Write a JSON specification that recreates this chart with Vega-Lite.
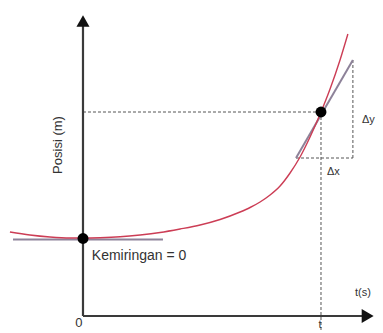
{
  "$schema": "https://vega.github.io/schema/vega-lite/v6.json",
  "width": 383,
  "height": 333,
  "autosize": {"type": "fit", "contains": "padding"},
  "padding": 0,
  "background": "white",
  "config": {"view": {"stroke": null}},
  "datasets": {
    "curve": [
      {"t": -0.307, "y": 0.84}, {"t": -0.223, "y": 0.81}, {"t": -0.139, "y": 0.79},
      {"t": -0.055, "y": 0.78}, {"t": 0.0, "y": 0.78}, {"t": 0.071, "y": 0.783},
      {"t": 0.156, "y": 0.792}, {"t": 0.24, "y": 0.81}, {"t": 0.324, "y": 0.835},
      {"t": 0.408, "y": 0.87}, {"t": 0.492, "y": 0.91}, {"t": 0.576, "y": 0.965},
      {"t": 0.66, "y": 1.04}, {"t": 0.702, "y": 1.085}, {"t": 0.744, "y": 1.14},
      {"t": 0.786, "y": 1.21}, {"t": 0.828, "y": 1.3}, {"t": 0.87, "y": 1.43},
      {"t": 0.912, "y": 1.59}, {"t": 0.954, "y": 1.79}, {"t": 1.0, "y": 2.04},
      {"t": 1.038, "y": 2.27}, {"t": 1.08, "y": 2.56}, {"t": 1.113, "y": 2.82}
    ],
    "tangents": [
      {"id": "flat", "t": -0.294, "y": 0.765},
      {"id": "flat", "t": 0.336, "y": 0.765},
      {"id": "slope", "t": 0.895, "y": 1.58},
      {"id": "slope", "t": 1.134, "y": 2.56}
    ],
    "guides": [
      {"id": "h", "t": 0.0, "y": 2.04},
      {"id": "h", "t": 1.0, "y": 2.04},
      {"id": "v", "t": 1.0, "y": 2.04},
      {"id": "v", "t": 1.0, "y": -0.15},
      {"id": "dx", "t": 0.895, "y": 1.58},
      {"id": "dx", "t": 1.134, "y": 1.58},
      {"id": "dy", "t": 1.134, "y": 1.58},
      {"id": "dy", "t": 1.134, "y": 2.56}
    ],
    "axes": [
      {"id": "yaxis", "t": 0.0, "y": 0.0},
      {"id": "yaxis", "t": 0.0, "y": 2.92},
      {"id": "xaxis", "t": 0.0, "y": 0.0},
      {"id": "xaxis", "t": 1.18, "y": 0.0}
    ],
    "arrowUp": [{"t": 0.0, "y": 2.95}],
    "arrowRight": [{"t": 1.196, "y": 0.0}],
    "dots": [{"t": 0.0, "y": 0.775}, {"t": 1.0, "y": 2.04}],
    "bigLabels": [
      {"label": "Kemiringan = 0", "t": 0.037, "y": 0.6}
    ],
    "zeroLabel": [
      {"label": "0", "t": -0.017, "y": -0.07}
    ],
    "smallLabels": [
      {"label": "t", "t": 0.99, "y": -0.09},
      {"label": "t(s)", "t": 1.143, "y": 0.23},
      {"label": "Δy", "t": 1.172, "y": 1.96},
      {"label": "Δx", "t": 1.025, "y": 1.44}
    ],
    "ylabel": [{"label": "Posisi (m)", "t": -0.105, "y": 1.71}]
  },
  "layer": [
    {
      "data": {"name": "guides"},
      "mark": {"type": "line", "color": "#555555", "strokeWidth": 1, "strokeDash": [3, 2]},
      "encoding": {
        "x": {"field": "t", "type": "quantitative", "axis": null, "scale": {"domain": [-0.3487, 1.2605], "nice": false, "zero": false}},
        "y": {"field": "y", "type": "quantitative", "axis": null, "scale": {"domain": [-0.17, 3.16], "nice": false, "zero": false}},
        "detail": {"field": "id"}
      }
    },
    {
      "data": {"name": "axes"},
      "mark": {"type": "line", "color": "#3a3a3a", "strokeWidth": 2.2},
      "encoding": {
        "x": {"field": "t", "type": "quantitative"},
        "y": {"field": "y", "type": "quantitative"},
        "detail": {"field": "id"}
      }
    },
    {
      "data": {"name": "arrowUp"},
      "mark": {"type": "point", "shape": "triangle-up", "filled": true, "color": "#111111", "size": 170, "opacity": 1},
      "encoding": {
        "x": {"field": "t", "type": "quantitative"},
        "y": {"field": "y", "type": "quantitative"}
      }
    },
    {
      "data": {"name": "arrowRight"},
      "mark": {"type": "point", "shape": "triangle-right", "filled": true, "color": "#111111", "size": 190, "opacity": 1},
      "encoding": {
        "x": {"field": "t", "type": "quantitative"},
        "y": {"field": "y", "type": "quantitative"}
      }
    },
    {
      "data": {"name": "tangents"},
      "mark": {"type": "line", "color": "#8d8299", "strokeWidth": 2},
      "encoding": {
        "x": {"field": "t", "type": "quantitative"},
        "y": {"field": "y", "type": "quantitative"},
        "detail": {"field": "id"}
      }
    },
    {
      "data": {"name": "curve"},
      "mark": {"type": "line", "color": "#cc3d55", "strokeWidth": 1.4, "interpolate": "monotone"},
      "encoding": {
        "x": {"field": "t", "type": "quantitative"},
        "y": {"field": "y", "type": "quantitative"}
      }
    },
    {
      "data": {"name": "dots"},
      "mark": {"type": "circle", "color": "#000000", "size": 120, "opacity": 1},
      "encoding": {
        "x": {"field": "t", "type": "quantitative"},
        "y": {"field": "y", "type": "quantitative"}
      }
    },
    {
      "data": {"name": "bigLabels"},
      "mark": {"type": "text", "align": "left", "baseline": "middle", "font": "Liberation Sans", "fontSize": 14, "color": "#333333"},
      "encoding": {
        "x": {"field": "t", "type": "quantitative"},
        "y": {"field": "y", "type": "quantitative"},
        "text": {"field": "label"}
      }
    },
    {
      "data": {"name": "zeroLabel"},
      "mark": {"type": "text", "align": "center", "baseline": "middle", "font": "Liberation Sans", "fontSize": 13, "color": "#333333"},
      "encoding": {
        "x": {"field": "t", "type": "quantitative"},
        "y": {"field": "y", "type": "quantitative"},
        "text": {"field": "label"}
      }
    },
    {
      "data": {"name": "smallLabels"},
      "mark": {"type": "text", "align": "left", "baseline": "middle", "font": "Liberation Sans", "fontSize": 11, "color": "#333333"},
      "encoding": {
        "x": {"field": "t", "type": "quantitative"},
        "y": {"field": "y", "type": "quantitative"},
        "text": {"field": "label"}
      }
    },
    {
      "data": {"name": "ylabel"},
      "mark": {"type": "text", "align": "center", "baseline": "middle", "angle": 270, "font": "Liberation Sans", "fontSize": 13, "color": "#333333"},
      "encoding": {
        "x": {"field": "t", "type": "quantitative"},
        "y": {"field": "y", "type": "quantitative"},
        "text": {"field": "label"}
      }
    }
  ]
}
